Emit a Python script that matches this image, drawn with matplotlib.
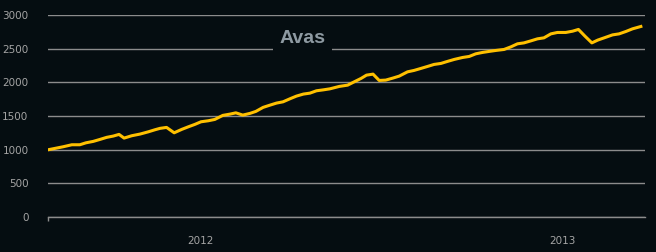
import matplotlib
matplotlib.use("Agg")
import matplotlib.pyplot as plt

# time as decimal year, value of the series
t = [2011.585, 2011.623, 2011.647, 2011.669, 2011.686, 2011.706, 2011.725, 2011.743,
     2011.761, 2011.777, 2011.791, 2011.812, 2011.835, 2011.858, 2011.876, 2011.890,
     2011.908, 2011.929, 2011.950, 2011.968, 2011.986, 2012.003, 2012.023, 2012.041,
     2012.063, 2012.083, 2012.099, 2012.118, 2012.138, 2012.154, 2012.174, 2012.191,
     2012.211, 2012.229, 2012.248, 2012.266, 2012.285, 2012.303, 2012.321, 2012.340,
     2012.358, 2012.384, 2012.407, 2012.425, 2012.444, 2012.459, 2012.477, 2012.494,
     2012.512, 2012.531, 2012.549, 2012.572, 2012.590, 2012.609, 2012.627, 2012.645,
     2012.664, 2012.682, 2012.701, 2012.724, 2012.742, 2012.760, 2012.779, 2012.797,
     2012.815, 2012.838, 2012.857, 2012.875, 2012.893, 2012.912, 2012.930, 2012.948,
     2012.967, 2012.985, 2013.008, 2013.027, 2013.043, 2013.061, 2013.080, 2013.096,
     2013.114, 2013.137, 2013.155, 2013.174, 2013.192, 2013.215]
values = [1000, 1041, 1071, 1071, 1100, 1121, 1151, 1181,
          1200, 1225, 1170, 1205, 1230, 1264, 1294, 1315,
          1329, 1249, 1300, 1338, 1374, 1413, 1428, 1448,
          1508, 1527, 1546, 1512, 1538, 1567, 1627, 1657,
          1691, 1710, 1755, 1795, 1825, 1839, 1874, 1888,
          1903, 1939, 1958, 2007, 2058, 2107, 2122, 2028,
          2033, 2062, 2092, 2156, 2177, 2207, 2236, 2266,
          2281, 2311, 2341, 2370, 2385, 2424, 2445, 2460,
          2474, 2489, 2528, 2573, 2587, 2617, 2647, 2662,
          2721, 2742, 2742, 2761, 2787, 2687, 2587, 2628,
          2662, 2706, 2721, 2757, 2796, 2831]
year_ticks = [2012, 2013]
year_labels = ["2012", "2013"]
y_ticks = [0, 500, 1000, 1500, 2000, 2500, 3000]

bg = "#050d11"
grid_col = "#8c8c8c"
text_col = "#a4a4a4"

fig = plt.figure(figsize=(6.56, 2.52), dpi=100, facecolor=bg)
ax = fig.add_axes([0.073, 0.140, 0.910, 0.800])
ax.set_facecolor(bg)

ax.plot(t, values, color="#ffc000", linewidth=2.2, solid_joinstyle="round", zorder=3)

ax.set_xlim(2011.581, 2013.226)
ax.set_ylim(0, 3000)
ax.set_yticks(y_ticks)
ax.set_yticklabels([str(v) for v in y_ticks])
ax.grid(axis="y", color=grid_col, linewidth=1)
ax.set_axisbelow(True)

ax.set_xticks(year_ticks)
ax.set_xticklabels(year_labels)
ax.set_xticks([2011.581], minor=True)
ax.tick_params(axis="x", which="major", length=0, pad=14, colors=text_col, labelsize=7.5)
ax.tick_params(axis="x", which="minor", length=3, width=1, color=grid_col, direction="out")
ax.tick_params(axis="y", length=0, pad=14, colors=text_col, labelsize=7.5)

for s in ["top", "right", "left"]:
    ax.spines[s].set_visible(False)
ax.spines["bottom"].set_color(grid_col)
ax.spines["bottom"].set_linewidth(1)

fig.text(0.461, 0.846, "Avas", ha="center", va="center", fontsize=14,
         fontweight="bold", color="#8e9aa2", family="Liberation Sans",
         bbox=dict(facecolor=bg, edgecolor="none", pad=4.5))

fig.savefig("out.png", dpi=100, facecolor=bg)
